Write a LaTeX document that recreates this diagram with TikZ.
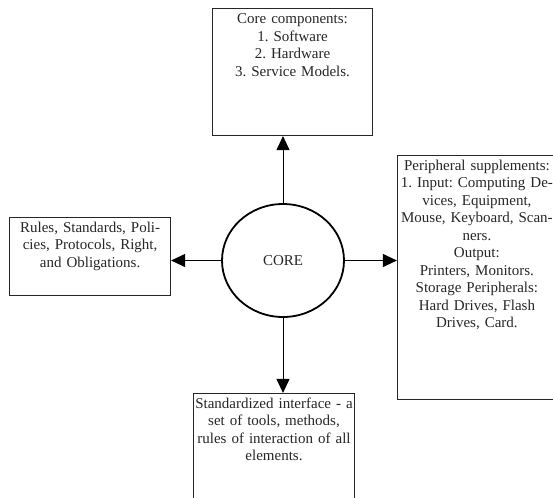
\documentclass[tikz,border=0pt]{standalone}
\usepackage{fontspec}
\setmainfont{Liberation Serif}
\usetikzlibrary{arrows.meta,positioning,shapes.geometric}
\frenchspacing
\hyphenpenalty=10000

\begin{document}
\begin{tikzpicture}[x=1pt,y=1pt,
    every node/.style={font=\fontsize{15}{17.5}\selectfont,text=black!85},
    box/.style={draw=black!85,line width=1pt,text width=#1,align=center,
        inner xsep=0.5pt,inner ysep=4pt,text height=11pt},
    hub/.style={ellipse,draw,line width=1.8pt,minimum width=122pt,
        minimum height=113pt,inner sep=0pt},
    arr/.style={-{Triangle[length=14pt,width=13pt]},line width=1pt}]
    \path[clip,use as bounding box] (0,0) rectangle (553,-497);

    \node[hub] (core) at (283,-260.5) {CORE};
    \node[box=159pt,text depth=108pt] (comp) [above=67pt of core,xshift=9.5pt]
        {Core components:\\ 1. Software\\ 2. Hardware\\ 3. Service Models.};
    \node[box=160pt,text depth=59pt] (rules) [left=50pt of core,yshift=4.5pt]
        {Rules, Standards, Poli-\\ cies, Protocols, Right,\\ and Obligations.};
    \node[box=158pt,text depth=225pt] (periph) [right=52pt of core,yshift=-16.5pt]
        {Peripheral supplements:\\ 1. Input: Computing De-\\ vices, Equipment,\\
         Mouse, Keyboard, Scan-\\ ners.\\ Output:\\ Printers, Monitors.\\
         Storage Peripherals:\\ Hard Drives, Flash\\ Drives, Card.};
    \node[box=160pt,text depth=111pt] (iface) [below=75pt of core,xshift=-9pt]
        {Standardized interface - a\\ set of tools, methods,\\
         rules of interaction of all\\ elements.};

    \path[arr]
        (core.north) edge (core.north |- comp.south)
        (core.south) edge (core.south |- iface.north)
        (core.west)  edge (core.west -| rules.east)
        (core.east)  edge (core.east -| periph.west);
\end{tikzpicture}
\end{document}
